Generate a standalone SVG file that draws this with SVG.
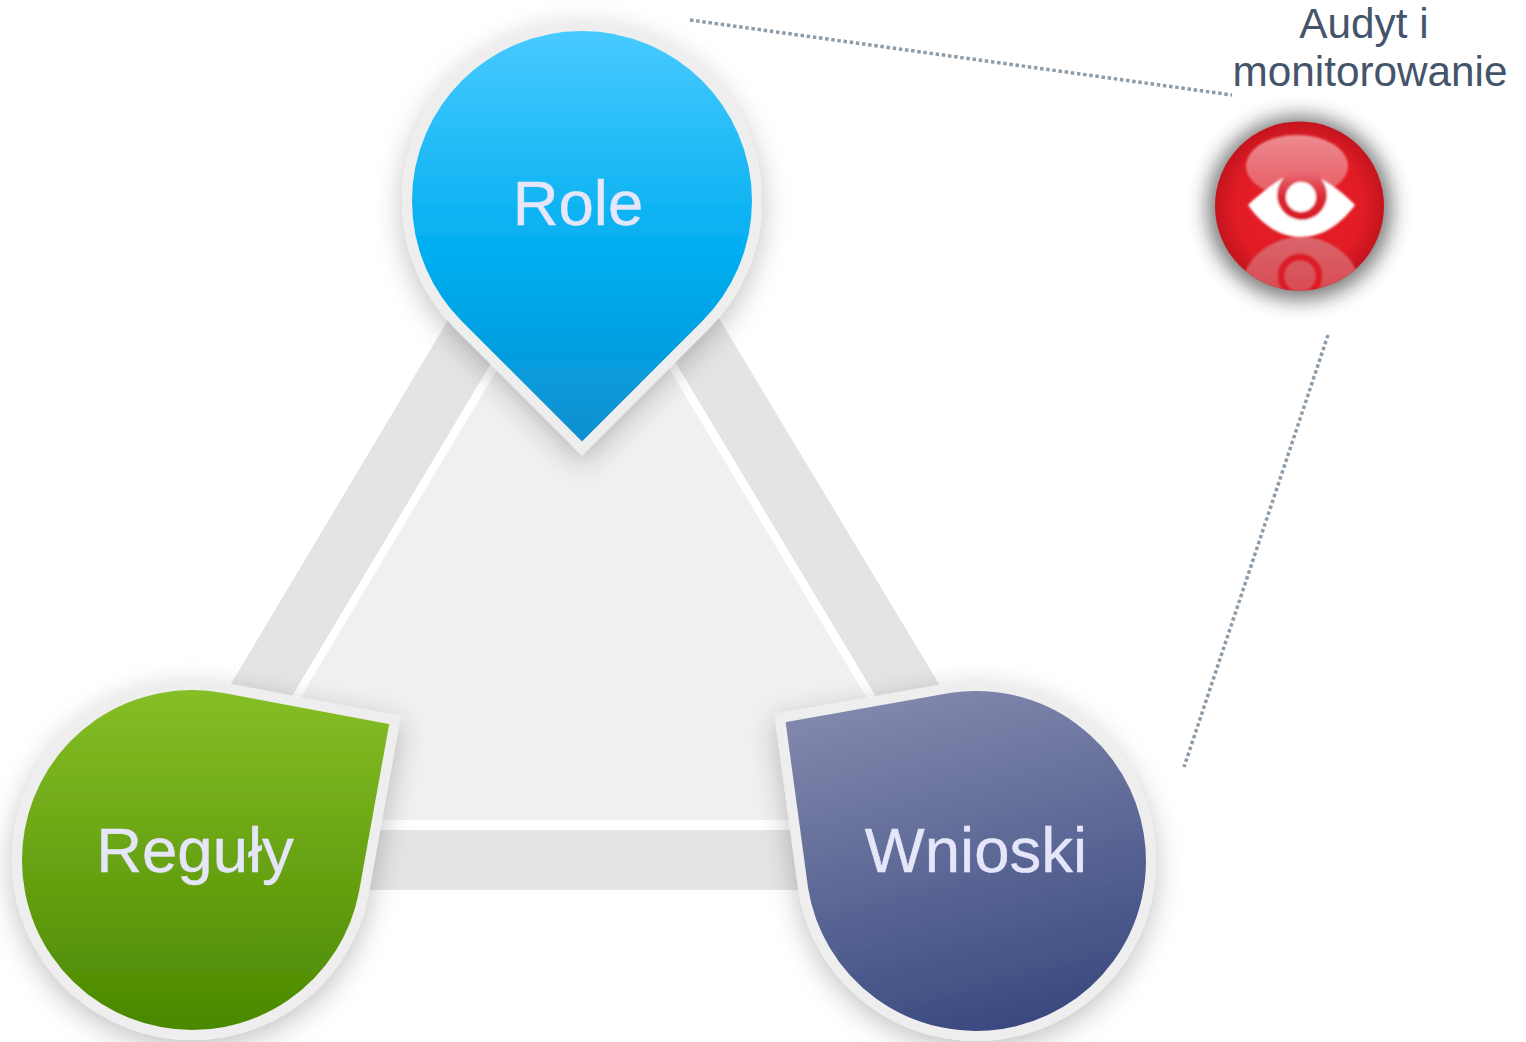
<svg xmlns="http://www.w3.org/2000/svg" width="1526" height="1042" viewBox="0 0 1526 1042">
<style>
.lbl{font-family:"Liberation Sans",Arial,sans-serif;font-size:63.5px;fill:#e6e6fa;text-anchor:middle;stroke:#e6e6fa;stroke-width:.4}
.cap{font-family:"Liberation Sans",Arial,sans-serif;font-size:42.3px;fill:#44546a;text-anchor:middle}
.drop{fill:none;stroke:#8d9ca8;stroke-width:3.5;stroke-dasharray:3.5 2.7}
.shape{stroke:#eeeeee;stroke-width:10;stroke-linejoin:miter;filter:url(#sh)}
</style>
<defs>
<filter id="sh" x="-25%" y="-25%" width="150%" height="150%"><feDropShadow dx="0" dy="8" stdDeviation="14" flood-color="#000" flood-opacity=".24"/></filter>
<filter id="glow" x="-40%" y="-40%" width="180%" height="180%"><feGaussianBlur stdDeviation="10"/></filter>
<filter id="soft" x="-10%" y="-10%" width="120%" height="120%"><feGaussianBlur stdDeviation="1"/></filter>
<radialGradient id="gball" cx=".5" cy=".5" r=".5"><stop offset="0" stop-color="#e61e27"/><stop offset=".75" stop-color="#e21c25"/><stop offset="1" stop-color="#c4141e"/></radialGradient>
<linearGradient id="gr" gradientUnits="userSpaceOnUse" x1="0" y1="31" x2="0" y2="441"><stop offset="0" stop-color="#48caff"/><stop offset=".55" stop-color="#00aeef"/><stop offset="1" stop-color="#0b8fd0"/></linearGradient>
<linearGradient id="gg" gradientUnits="userSpaceOnUse" x1="0" y1="690" x2="0" y2="1030"><stop offset="0" stop-color="#86be26"/><stop offset="1" stop-color="#4a8800"/></linearGradient>
<linearGradient id="gb" gradientUnits="userSpaceOnUse" x1="900" y1="690" x2="990" y2="1030"><stop offset="0" stop-color="#8288ad"/><stop offset="1" stop-color="#3a4a80"/></linearGradient>
<linearGradient id="gh" x1="0" y1="0" x2="0" y2="1"><stop offset="0" stop-color="#ec8a90"/><stop offset="1" stop-color="#e85a62"/></linearGradient>
<linearGradient id="gl" x1="0" y1="0" x2="0" y2="1"><stop offset="0" stop-color="#d9666c"/><stop offset="1" stop-color="#d9303a"/></linearGradient>
<linearGradient id="gring" x1="0" y1="0" x2="0" y2="1"><stop offset="0" stop-color="#e8707a"/><stop offset=".55" stop-color="#dc2a34"/><stop offset="1" stop-color="#d81822"/></linearGradient>
<clipPath id="ball"><circle cx="1299.5" cy="206" r="84.5"/></clipPath>
</defs>
<g id="triangle">
<path d="M583.5 93L1063 890H108Z" fill="#e3e4e6"/>
<path d="M583.5 209.500L677 365L956 830H212L490 365Z" fill="#fff"/>
<path d="M583.500 226L667 365L940 820H227L500 365Z" fill="#f0f0f0"/>
</g>
<g id="connectors">
<line class="drop" x1="690" y1="20" x2="1232" y2="95"/>
<line class="drop" x1="1328" y1="335" x2="1184" y2="767"/>
</g>
<g id="node-role">
<path class="shape" fill="url(#gr)" d="M458.300 324.700A175 175 0 1 1 705.700 324.700L582 448.500Z"/>
<text class="lbl" x="578" y="225">Role</text>
</g>
<g id="node-reguly">
<path class="shape" fill="url(#gg)" d="M224.200 688L395 720L364 892.200A175 175 0 1 1 224.200 688Z"/>
<text class="lbl" x="195" y="872">Reguły</text>
</g>
<g id="node-wnioski">
<path class="shape" fill="url(#gb)" d="M948.700 688.100L780 718L803.100 888.300A175 175 0 1 0 948.700 688.100Z"/>
<text class="lbl" x="976" y="872">Wnioski</text>
</g>
<g id="node-audyt">
<text class="cap" x="1364" y="38">Audyt i</text>
<text class="cap" x="1370" y="86">monitorowanie</text>
<circle cx="1299.500" cy="208" r="92" fill="#333" opacity=".65" filter="url(#glow)"/>
<circle cx="1299.500" cy="206" r="84.500" fill="url(#gball)"/>
<g clip-path="url(#ball)" filter="url(#soft)">
<ellipse cx="1297" cy="166" rx="51" ry="31" fill="url(#gh)"/>
<ellipse cx="1301" cy="292" rx="60" ry="55" fill="url(#gl)"/>
<circle cx="1300" cy="276" r="19" fill="none" stroke="#dc1c28" stroke-width="7"/>
</g>
<g filter="url(#soft)">
<path d="M1248 205C1262 192 1274 183 1283 178A26 26 0 0 0 1319 178C1330 183 1342 192 1355 205C1340 225 1322 237 1301 237C1280 237 1262 225 1248 205Z" fill="#fff"/>
<circle cx="1302" cy="195" r="25" fill="url(#gring)"/>
<circle cx="1301" cy="197" r="15" fill="#fff"/>
</g>
</g>
</svg>
